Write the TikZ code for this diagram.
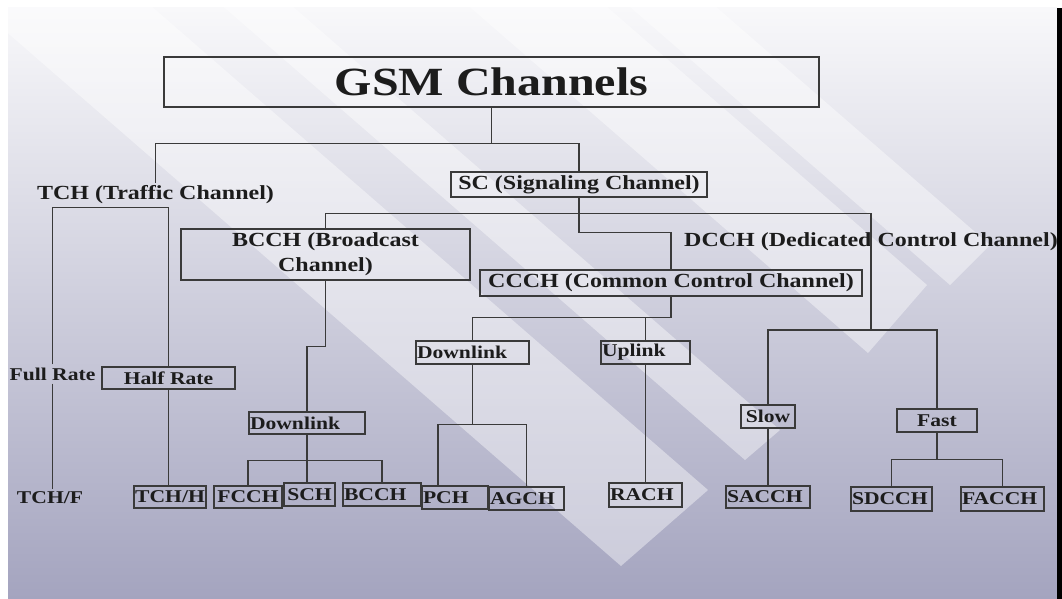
\documentclass[tikz,border=0pt]{standalone}
\usepackage{fontspec}
\setmainfont{Liberation Serif}[FakeStretch=1.2]
\usetikzlibrary{positioning,calc}
\definecolor{GSMLine}{HTML}{3A3A3A}
\definecolor{GSMText}{HTML}{1C1C1C}
\definecolor{GSMTop}{HTML}{F8F8FA}
\definecolor{GSMMid}{HTML}{CFCFDE}
\definecolor{GSMBottom}{HTML}{A4A4BF}
\newcommand{\bigsize}{\fontsize{40pt}{44pt}\selectfont\bfseries}
\newcommand{\midsize}{\fontsize{20pt}{25pt}\selectfont\bfseries}
\newcommand{\smallsize}{\fontsize{18pt}{20pt}\selectfont\bfseries}

\begin{document}
\begin{tikzpicture}[x=1pt,y=-1pt,
  chbox/.style={draw=GSMLine,line width=1.4pt,inner xsep=1pt,inner ysep=0pt,text=GSMText,font=\smallsize},
  plain/.style={inner xsep=0pt,inner ysep=3pt,text=GSMText,font=\midsize},
  link/.style={draw=GSMLine,line width=1.4pt},
  band/.style={fill=white,fill opacity=0.42},
]
\useasboundingbox (0,0) rectangle (1062,599);
\fill[white] (0,0) rectangle (1062,599);
\shade[top color=GSMTop,middle color=GSMMid,bottom color=GSMBottom] (8,8) rectangle (1057,599);
\fill[black] (1057,8) rectangle (1062,599);
\begin{scope}
\clip (8,8) rectangle (1057,599);
\fill[band] (621,566) -- (708,490) -- ++(-680,-591) -- (-59,-25) -- cycle;
\fill[band] (745,460) -- (780,430) -- ++(-680,-591) -- (65,-131) -- cycle;
\fill[band] (868,353) -- (927,285) -- ++(-680,-591) -- (188,-238) -- cycle;
\fill[band] (950,285) -- (990,245) -- ++(-680,-591) -- (270,-306) -- cycle;
\end{scope}

\node[chbox,minimum width=655pt,minimum height=50pt,font=\bigsize] (gsm) at (491.5,82) {GSM Channels};
\node[plain] (tch) at (155.5,195) {TCH (Traffic Channel)};
\node[chbox,minimum width=256pt,minimum height=25pt,font=\midsize] (sc) at (579,184.5) {SC (Signaling Channel)};
\node[chbox,minimum width=289pt,minimum height=51pt,font=\midsize,align=center] (bcch) at (325.5,254.5) {BCCH (Broadcast\\Channel)};
\node[plain] (dcch) at (871,242) {DCCH (Dedicated Control Channel)};
\node[chbox,minimum width=382pt,minimum height=26pt,font=\midsize] (ccch) at (671,283) {CCCH (Common Control Channel)};
\node[plain,font=\smallsize] (full) at (52.5,374) {Full Rate};
\node[chbox,minimum width=133pt,minimum height=22pt] (half) at (168.5,378) {Half Rate};
\node[chbox,text width=114pt,minimum height=22pt,align=left] (dl1) at (307,423) {Downlink};
\node[chbox,text width=111pt,minimum height=23pt,align=left] (dl2) at (472.5,352.5) {Downlink};
\node[chbox,text width=87pt,minimum height=23pt,align=left] (ul) at (645.5,352.5) {Uplink};
\node[chbox,minimum width=54pt,minimum height=23pt] (slow) at (768,416.5) {Slow};
\node[chbox,minimum width=80pt,minimum height=23pt] (fast) at (937,420.5) {Fast};
\node[plain,font=\smallsize] (tchf) at (50,498) {TCH/F};
\node[chbox,minimum width=72pt,minimum height=22pt] (tchh) at (170,497) {TCH/H};
\node[chbox,minimum width=68pt,minimum height=22pt] (fcch) at (248,497) {FCCH};
\node[chbox,minimum width=51pt,minimum height=23pt] (sch) at (309.5,494.5) {SCH};
\node[chbox,text width=76pt,minimum height=23pt,align=left] (bcchb) at (382,494.5) {BCCH};
\node[chbox,text width=64pt,minimum height=23pt,align=left] (pch) at (455,497.5) {PCH};
\node[chbox,text width=73pt,minimum height=23pt,align=left] (agch) at (526.5,498.5) {AGCH};
\node[chbox,text width=71pt,minimum height=24pt,align=left] (rach) at (645.5,495) {RACH};
\node[chbox,text width=82pt,minimum height=22pt,align=left] (sacch) at (768,497) {SACCH};
\node[chbox,text width=79pt,minimum height=24pt,align=left] (sdcch) at (891.5,499) {SDCCH};
\node[chbox,text width=81pt,minimum height=24pt,align=left] (facch) at (1002.5,499) {FACCH};

\coordinate (topbus) at ($(gsm.south)+(0,36)$);
\coordinate (sigbus) at ($(sc.south)+(0,16)$);
\coordinate (dedbus) at (871,330);
\coordinate (bcchbus) at ($(dl1.south)+(0,26)$);
\coordinate (cbus) at ($(ccch.south)+(0,21)$);
\coordinate (dlbus) at ($(dl2.south)+(0,60)$);
\coordinate (fastbus) at ($(fast.south)+(0,27)$);

\draw[link] (gsm.south) -- (topbus) -| (tch.north);
\draw[link] (topbus) -| (sc.north);
\draw[link] (full.north) |- (tch.south -| half.north) -- (half.north);
\draw[link] (full.south) -- (full.south |- tchf.north);
\draw[link] (half.south) -- (half.south |- tchh.north);
\draw[link] (bcch.north) |- (sigbus) -| (dcch.north) -- (dcch.south) -- (dedbus);
\draw[link] (sc.south) |- ($(ccch.north)+(0,-37)$) -- (ccch.north);
\draw[link] (slow.north) |- (dedbus) -| (fast.north);
\draw[link] (bcch.south) -- ++(0,66) -| (dl1.north);
\draw[link] (dl1.south) -- (dl1.south |- sch.north);
\draw[link] (fcch.north) |- (bcchbus) -| (bcchb.north);
\draw[link] (ccch.south) -- (cbus) -| (dl2.north);
\draw[link] (ul.north) -- (ul.north |- cbus);
\draw[link] (dl2.south) -- (dlbus);
\draw[link] ($(pch.north)!.5!(pch.north west)$) |- (dlbus) -| (agch.north);
\draw[link] (ul.south) -- (rach.north);
\draw[link] (slow.south) -- (sacch.north);
\draw[link] (fast.south) -- (fastbus);
\draw[link] (sdcch.north) |- (fastbus) -| (facch.north);
\end{tikzpicture}
\end{document}
